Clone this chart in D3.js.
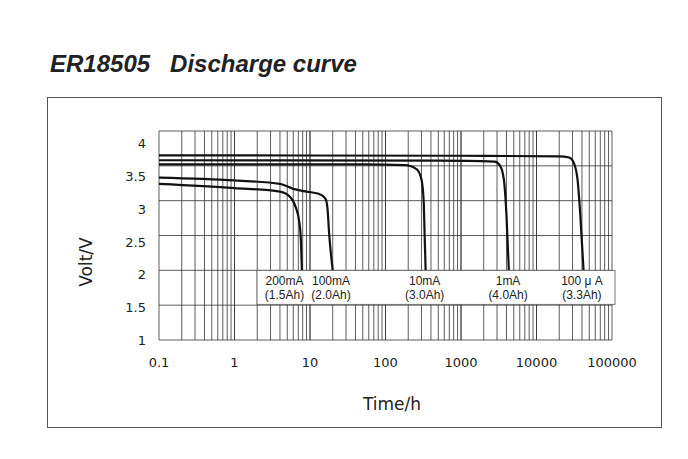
<!DOCTYPE html>
<html><head><meta charset="utf-8">
<script src="https://cdn.jsdelivr.net/npm/d3@7"></script>
<style>body{margin:0;background:#fff}</style></head>
<body><svg id="c" width="688" height="459"></svg>
<script>
const xTicks = [0.1, 1, 10, 100, 1000, 10000, 100000];
const yTicks = [1, 1.5, 2, 2.5, 3, 3.5, 4];
// [hours, volts]
const c100uA = [[0.1,3.65],[1000,3.645],[20000,3.635],[27000,3.62],[31000,3.55],[35000,3.3],[38000,2.8],[42000,2.0]];
const c1mA = [[0.1,3.58],[500,3.575],[2800,3.56],[3300,3.5],[3700,3.3],[4000,2.8],[4300,2.0]];
const c10mA = [[0.1,3.52],[50,3.52],[180,3.51],[260,3.45],[300,3.3],[320,3.0],[330,2.5],[340,2.0]];
const c100mA = [[0.1,3.33],[1,3.29],[4,3.24],[6,3.17],[9,3.13],[13,3.1],[16,3.03],[17,2.9],[18,2.5],[20,2.0]];
const c200mA = [[0.1,3.24],[1,3.18],[4,3.13],[5.5,3.05],[6.5,2.9],[7.2,2.7],[7.6,2.4],[7.8,2.0]];
const curves = [c100uA, c1mA, c10mA, c100mA, c200mA];
const labels = [["200mA","(1.5Ah)",4.6],["100mA","(2.0Ah)",19],["10mA","(3.0Ah)",330],["1mA","(4.0Ah)",4200],["100 μ A","(3.3Ah)",40000]];

const svg = d3.select("#c");
const x = d3.scaleLog().domain([0.1, 100000]).range([159, 612]);
const y = d3.scaleLinear().domain([1, 4]).range([340, 131]);

svg.append("text").attr("x", 50).attr("y", 72).attr("font-family", "Liberation Sans, Arial")
  .attr("font-size", 24).attr("font-weight", "bold").attr("font-style", "italic").attr("fill", "#222")
  .attr("xml:space", "preserve").text("ER18505   Discharge curve");
svg.append("rect").attr("x", 47.5).attr("y", 97.5).attr("width", 614).attr("height", 330)
  .attr("fill", "none").attr("stroke", "#555");

const g = svg.append("g");
const minor = [];
for (let d = -1; d < 5; d++) for (let k = 1; k <= 10; k++) minor.push(k * Math.pow(10, d));
g.selectAll(".vx").data(minor).enter().append("line")
  .attr("x1", d => x(d)).attr("x2", d => x(d)).attr("y1", y(4)).attr("y2", y(1))
  .attr("stroke", "#333").attr("stroke-width", 0.8);
g.selectAll(".hy").data(yTicks).enter().append("line")
  .attr("x1", x(0.1)).attr("x2", x(100000)).attr("y1", d => y(d)).attr("y2", d => y(d))
  .attr("stroke", "#333").attr("stroke-width", 0.8);

const line = d3.line().x(d => x(d[0])).y(d => y(d[1])).curve(d3.curveMonotoneX);
g.selectAll(".crv").data(curves).enter().append("path").attr("d", line)
  .attr("fill", "none").attr("stroke", "#111").attr("stroke-width", 2.2);

// label box
svg.append("rect").attr("x", 257).attr("y", y(2)).attr("width", 358).attr("height", 34)
  .attr("fill", "#fff").attr("stroke", "#555").attr("stroke-width", 0.8);
const lb = svg.selectAll(".lb").data(labels).enter().append("g");
lb.append("text").attr("x", d => x(d[2])).attr("y", y(2) + 15).attr("text-anchor", "middle")
  .attr("font-family", "Liberation Sans, Arial").attr("font-size", 12).attr("fill", "#222").text(d => d[0]);
lb.append("text").attr("x", d => x(d[2])).attr("y", y(2) + 29).attr("text-anchor", "middle")
  .attr("font-family", "Liberation Sans, Arial").attr("font-size", 12).attr("fill", "#222").text(d => d[1]);

const font = "DejaVu Sans, Liberation Sans";
svg.selectAll(".xt").data(xTicks).enter().append("text").attr("x", d => x(d)).attr("y", 367)
  .attr("text-anchor", "middle").attr("font-family", font).attr("font-size", 13).attr("fill", "#222").text(d => d);
svg.selectAll(".yt").data(yTicks).enter().append("text").attr("x", 146).attr("y", d => y(d) + 5 + (d - 1) * 4)
  .attr("text-anchor", "end").attr("font-family", font).attr("font-size", 13).attr("fill", "#222").text(d => d);
svg.append("text").attr("x", 392).attr("y", 410).attr("text-anchor", "middle").attr("font-family", font)
  .attr("font-size", 17).attr("fill", "#222").text("Time/h");
svg.append("text").attr("transform", "translate(92,262) rotate(-90)").attr("text-anchor", "middle")
  .attr("font-family", font).attr("font-size", 17).attr("fill", "#222").text("Volt/V");
</script></body></html>
